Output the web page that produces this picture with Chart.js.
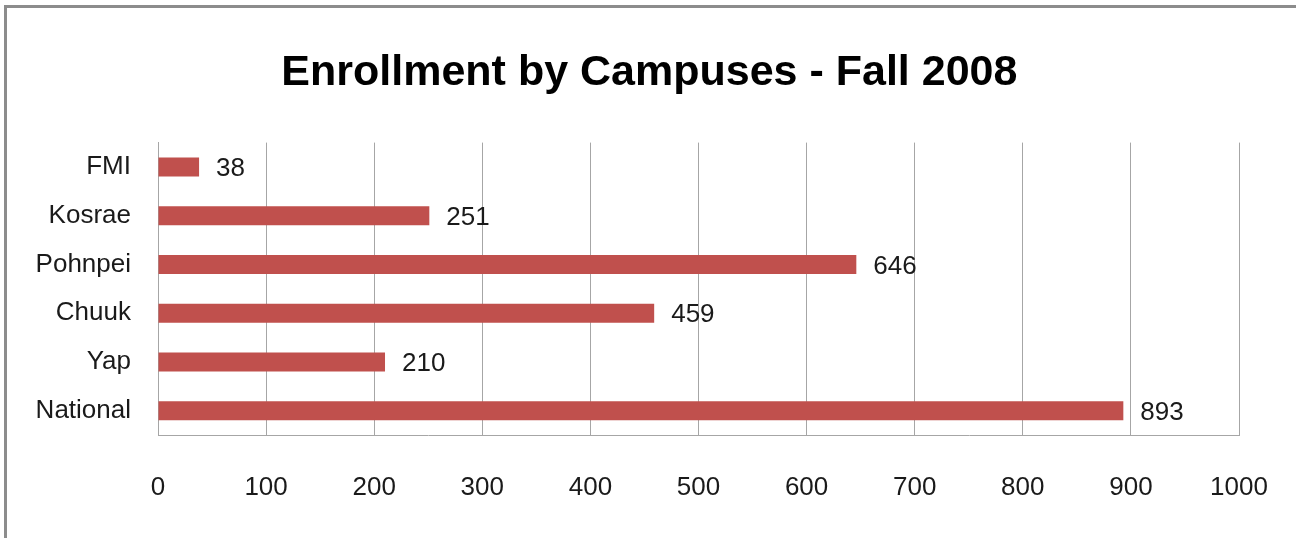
<!DOCTYPE html>
<html>
<head>
<meta charset="utf-8">
<script src="https://cdn.jsdelivr.net/npm/chart.js@4.4.1/dist/chart.umd.min.js"></script>
<style>
  html, body { margin: 0; padding: 0; background: #fff; }
  #wrap { position: absolute; left: 0; top: 0; width: 1296px; height: 538px; }
  #frame { position: absolute; left: 4px; top: 5px; right: -10px; bottom: -10px;
           border-left: 3px solid #8c8c8c; border-top: 3px solid #8c8c8c; }
  canvas { position: absolute; left: 0; top: 0; }
</style>
</head>
<body>
<div id="wrap">
  <div id="frame"></div>
  <canvas id="enrollChart" width="1296" height="538"></canvas>
</div>
<script>
var campuses = ["FMI", "Kosrae", "Pohnpei", "Chuuk", "Yap", "National"];
var enrollment = [38, 251, 646, 459, 210, 893];
var axisMax = 1000;
var axisStep = 100;

var fontFam = "'Liberation Sans', Arial, sans-serif";

// value labels drawn just right of each bar
var barLabels = {
  id: 'barLabels',
  afterDatasetsDraw: function(chart) {
    var ctx = chart.ctx;
    var meta = chart.getDatasetMeta(0);
    ctx.save();
    ctx.font = "26px " + fontFam;
    ctx.fillStyle = "#1a1a1a";
    ctx.textAlign = "left";
    ctx.textBaseline = "middle";
    meta.data.forEach(function(bar, i) {
      ctx.fillText(enrollment[i], bar.x + 17, bar.y + 2);
    });
    ctx.restore();
  }
};

var ctx = document.getElementById("enrollChart").getContext('2d');
var myChart = new Chart(ctx, {
  type: 'bar',
  data: {
    labels: campuses,
    datasets: [{
      label: 'Enrollment',
      data: enrollment,
      backgroundColor: '#C0504D',
      borderWidth: 0,
      barPercentage: 0.39,
      categoryPercentage: 1
    }]
  },
  options: {
    indexAxis: 'y',
    responsive: false,
    animation: false,
    layout: { padding: { left: 0, right: 57, top: 0, bottom: 0 } },
    plugins: {
      legend: { display: false },
      tooltip: { enabled: false },
      title: {
        display: true,
        // leading spaces nudge the centred title a bit to the right
        text: '     Enrollment by Campuses - Fall 2008',
        color: '#000',
        font: { family: fontFam, size: 43, weight: 'bold' },
        padding: { top: 47, bottom: 44 }
      }
    },
    scales: {
      x: {
        min: 0,
        max: axisMax,
        ticks: {
          stepSize: axisStep,
          color: '#1a1a1a',
          padding: 37,
          font: { family: fontFam, size: 26 },
          callback: function(v) { return String(v); }
        },
        grid: { color: '#a6a6a6', drawTicks: false, lineWidth: 1 },
        border: { color: '#a6a6a6' },
        afterFit: function(scale) {
          scale.height = 103;
          scale.paddingLeft = 0;
          scale.paddingRight = 0;
        }
      },
      y: {
        ticks: {
          color: '#1a1a1a',
          padding: 27,
          font: { family: fontFam, size: 26 }
        },
        grid: { display: false, drawTicks: false },
        border: { color: '#a6a6a6' },
        afterFit: function(scale) { scale.width = 158; }
      }
    }
  },
  plugins: [barLabels]
});
</script>
</body>
</html>
